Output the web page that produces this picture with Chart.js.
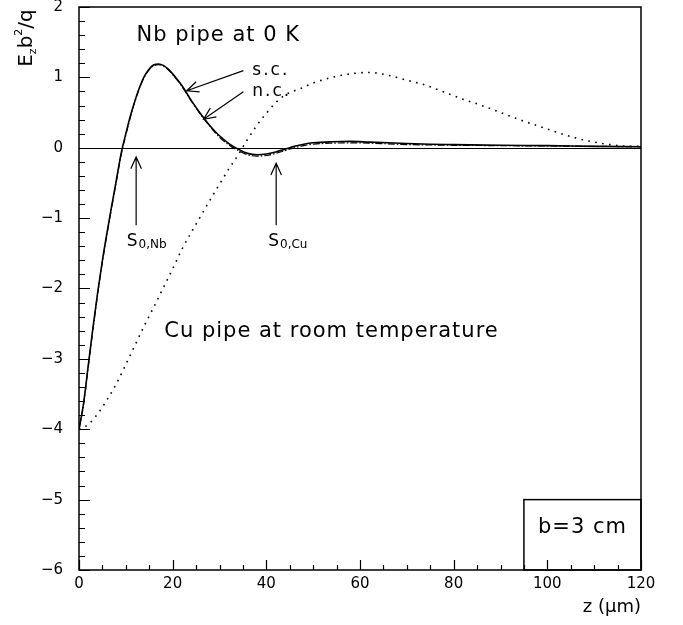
<!DOCTYPE html>
<html>
<head>
<meta charset="utf-8">
<script src="https://cdn.jsdelivr.net/npm/chart.js@4"></script>
<style>
  body { margin: 0; background: #fff; }
  #wake { display: block; }
</style>
</head>
<body>
<canvas id="wake" width="683" height="625"></canvas>
<script>
// z (um) das curvas do tubo de Nb
const nbZ = [0, 1, 2, 3, 4, 5, 6, 7, 8, 9, 10, 11, 12, 13, 14, 15, 16, 17, 18, 19, 20,
  22, 24, 26, 28, 30, 32, 34, 36, 38, 40, 42, 44, 46, 48, 50, 54, 58, 62, 66, 70, 75, 80, 90, 100, 110, 120];
// supercondutor (s.c.)
const scValues = [-4.0, -3.62, -3.08, -2.55, -2.05, -1.6, -1.2, -0.82, -0.45, -0.08, 0.2, 0.46, 0.68, 0.87, 1.02, 1.12, 1.18, 1.19, 1.17, 1.12, 1.05,
  0.88, 0.67, 0.48, 0.31, 0.17, 0.06, -0.02, -0.08, -0.1, -0.09, -0.06, -0.02, 0.02, 0.05, 0.07, 0.085, 0.09, 0.08, 0.07, 0.06, 0.05, 0.045, 0.035, 0.03, 0.02, 0.015];
// condutor normal (n.c.)
const ncValues = [-4.0, -3.64, -3.1, -2.57, -2.07, -1.62, -1.22, -0.84, -0.47, -0.1, 0.18, 0.44, 0.67, 0.86, 1.01, 1.11, 1.17, 1.18, 1.16, 1.11, 1.04,
  0.87, 0.66, 0.47, 0.3, 0.15, 0.04, -0.04, -0.1, -0.12, -0.11, -0.08, -0.04, 0.0, 0.03, 0.05, 0.065, 0.07, 0.065, 0.055, 0.045, 0.04, 0.035, 0.03, 0.025, 0.02, 0.015];
// tubo de Cu a temperatura ambiente
const cuZ = [0, 2, 4, 6, 8, 10, 12, 14, 16, 18, 20, 22, 24, 26, 28, 30, 32, 34, 36, 38, 40, 42, 44, 46, 48, 50,
  54, 58, 62, 66, 70, 74, 78, 82, 86, 90, 94, 98, 102, 106, 110, 114, 117, 120];
const cuValues = [-4.0, -3.93, -3.78, -3.58, -3.35, -3.08, -2.8, -2.52, -2.26, -1.99, -1.72, -1.44, -1.2, -0.97, -0.74, -0.52, -0.3, -0.1, 0.12, 0.32, 0.49, 0.64, 0.75, 0.81, 0.86, 0.92,
  1.0, 1.05, 1.07, 1.03, 0.96, 0.89, 0.79, 0.69, 0.6, 0.5, 0.4, 0.31, 0.22, 0.14, 0.08, 0.04, 0.02, 0.02];

const xTickValues = [0, 20, 40, 60, 80, 100, 120];
const yTickValues = [-6, -5, -4, -3, -2, -1, 0, 1, 2];

const textFont = '"DejaVu Sans", sans-serif';

function toPoints(zs, vals) {
  return zs.map((z, i) => ({ x: z, y: vals[i] }));
}

// seta aberta (linha + ponta em V)
function drawArrow(ctx, x1, y1, x2, y2) {
  const ang = Math.atan2(y2 - y1, x2 - x1);
  const head = 13, spread = 0.42;
  ctx.beginPath();
  ctx.moveTo(x1, y1);
  ctx.lineTo(x2, y2);
  ctx.moveTo(x2 - head * Math.cos(ang - spread), y2 - head * Math.sin(ang - spread));
  ctx.lineTo(x2, y2);
  ctx.lineTo(x2 - head * Math.cos(ang + spread), y2 - head * Math.sin(ang + spread));
  ctx.stroke();
}

// S com índice (S_0,Nb)
function drawSLabel(ctx, px, py, sub) {
  ctx.textAlign = 'left';
  ctx.textBaseline = 'middle';
  ctx.font = '17px ' + textFont;
  ctx.fillText('S', px, py);
  const w = ctx.measureText('S').width;
  ctx.font = '12px ' + textFont;
  ctx.fillText(sub, px + w + 1, py + 4);
}

const decorPlugin = {
  id: 'decor',
  beforeDatasetsDraw(chart) {
    const { ctx, chartArea: a, scales: { y } } = chart;
    ctx.save();
    ctx.strokeStyle = '#000';
    ctx.lineWidth = 1;
    const y0 = Math.round(y.getPixelForValue(0)) + 0.5;
    ctx.beginPath();
    ctx.moveTo(a.left, y0);
    ctx.lineTo(a.right, y0);
    ctx.stroke();
    ctx.restore();
  },
  afterDraw(chart) {
    const { ctx, chartArea: a, scales: { x, y } } = chart;
    const X = v => x.getPixelForValue(v);
    const Y = v => y.getPixelForValue(v);
    ctx.save();
    ctx.strokeStyle = '#000';
    ctx.fillStyle = '#000';

    // moldura
    ctx.lineWidth = 1.5;
    ctx.strokeRect(a.left, a.top, a.right - a.left, a.bottom - a.top);

    // marcas para dentro
    ctx.lineWidth = 1.2;
    ctx.beginPath();
    for (let v = -6; v <= 2.001; v += 0.2) {
      const major = Math.abs(v - Math.round(v)) < 0.01;
      const py = Math.round(Y(v)) + 0.5;
      ctx.moveTo(a.left, py);
      ctx.lineTo(a.left + (major ? 11 : 6), py);
    }
    for (let v = 0; v <= 120; v += 5) {
      const major = v % 20 === 0;
      const px = Math.round(X(v)) + 0.5;
      ctx.moveTo(px, a.bottom);
      ctx.lineTo(px, a.bottom - (major ? 10 : 5));
    }
    ctx.stroke();

    // caixa b=3 cm
    ctx.lineWidth = 1.5;
    ctx.strokeRect(X(95), Y(-5), X(120) - X(95), Y(-6) - Y(-5));

    // textos (fonte mais larga no original, por isso o espacamento)
    ctx.textBaseline = 'middle';
    ctx.textAlign = 'left';
    ctx.font = '21px ' + textFont;
    ctx.letterSpacing = '1px';
    ctx.fillText('Nb pipe at 0 K', X(12.3), Y(1.6));
    ctx.fillText('Cu pipe at room temperature', X(18.2), Y(-2.61));
    ctx.textAlign = 'center';
    ctx.fillText('b=3 cm', X(107.5), Y(-5.4));
    ctx.textAlign = 'left';
    ctx.font = '17px ' + textFont;
    ctx.letterSpacing = '2px';
    ctx.fillText('s.c.', X(37.0), Y(1.1));
    ctx.fillText('n.c.', X(37.0), Y(0.8));
    ctx.letterSpacing = '0px';

    // setas
    ctx.lineWidth = 1.2;
    drawArrow(ctx, X(35.1), Y(1.095), X(23.0), Y(0.81));
    drawArrow(ctx, X(35.1), Y(0.797), X(26.6), Y(0.405));
    drawArrow(ctx, X(12.2), Y(-1.1), X(12.2), Y(-0.13));
    drawArrow(ctx, X(42.1), Y(-1.1), X(42.1), Y(-0.22));
    drawSLabel(ctx, X(10.2), Y(-1.33), '0,Nb');
    drawSLabel(ctx, X(40.4), Y(-1.33), '0,Cu');

    // titulo do eixo y: E_z b^2/q
    ctx.save();
    ctx.translate(25, 38);
    ctx.rotate(-Math.PI / 2);
    ctx.textBaseline = 'alphabetic';
    const parts = [
      { t: 'E', f: '20px ', dy: 0 },
      { t: 'z', f: '11px ', dy: 4 },
      { t: 'b', f: '20px ', dy: 0 },
      { t: '2', f: '11px ', dy: -10 },
      { t: '/q', f: '20px ', dy: 0 }
    ];
    let total = 0;
    parts.forEach(p => { ctx.font = p.f + textFont; p.w = ctx.measureText(p.t).width; total += p.w; });
    let cx = -total / 2;
    parts.forEach(p => {
      ctx.font = p.f + textFont;
      ctx.fillText(p.t, cx, 7 + p.dy);
      cx += p.w;
    });
    ctx.restore();

    // titulo do eixo x
    ctx.textAlign = 'right';
    ctx.font = '18px ' + textFont;
    ctx.fillText('z (\u03bcm)', a.right, 607);
    ctx.restore();
  }
};

const ctx = document.getElementById('wake').getContext('2d');

const wakeChart = new Chart(ctx, {
  type: 'line',
  data: {
    datasets: [
      {
        label: 'Cu',
        data: toPoints(cuZ, cuValues),
        borderColor: '#000',
        borderWidth: 1.6,
        borderDash: [1.6, 5.4],
        pointRadius: 0,
        cubicInterpolationMode: 'monotone'
      },
      {
        label: 'n.c.',
        data: toPoints(nbZ, ncValues),
        borderColor: '#000',
        borderWidth: 1.2,
        borderDash: [7, 2, 1.5, 2],
        pointRadius: 0,
        cubicInterpolationMode: 'monotone'
      },
      {
        label: 's.c.',
        data: toPoints(nbZ, scValues),
        borderColor: '#000',
        borderWidth: 1.6,
        pointRadius: 0,
        cubicInterpolationMode: 'monotone'
      }
    ]
  },
  options: {
    responsive: false,
    animation: false,
    layout: { padding: { top: 7, right: 42, left: 0, bottom: 0 } },
    plugins: { legend: { display: false }, tooltip: { enabled: false } },
    scales: {
      x: {
        type: 'linear',
        min: 0,
        max: 120,
        grid: { display: false, drawTicks: false },
        border: { display: false },
        afterBuildTicks: scale => { scale.ticks = xTickValues.map(v => ({ value: v })); },
        afterFit: scale => { scale.height = 55; scale.paddingLeft = 0; scale.paddingRight = 0; },
        ticks: { color: '#000', padding: 5, maxRotation: 0, font: { family: textFont, size: 15 } }
      },
      y: {
        type: 'linear',
        min: -6,
        max: 2,
        grid: { display: false, drawTicks: false },
        border: { display: false },
        afterBuildTicks: scale => { scale.ticks = yTickValues.map(v => ({ value: v })); },
        afterFit: scale => { scale.width = 79; scale.paddingTop = 0; scale.paddingBottom = 0; },
        ticks: {
          color: '#000',
          padding: 16,
          font: { family: textFont, size: 15 },
          callback: v => (v < 0 ? '\u2212' + Math.abs(v) : String(v))
        }
      }
    }
  },
  plugins: [decorPlugin]
});
</script>
</body>
</html>
